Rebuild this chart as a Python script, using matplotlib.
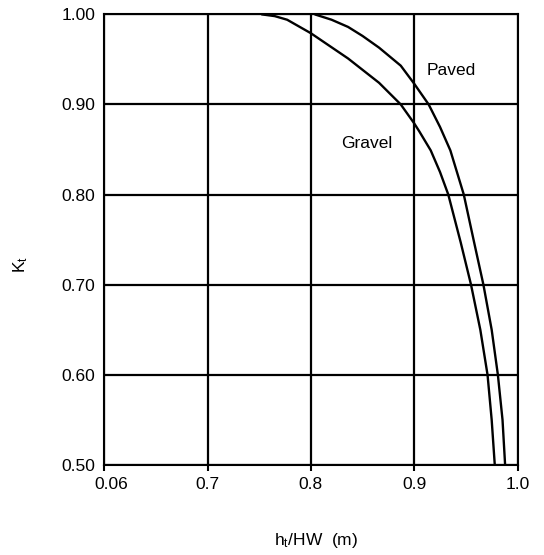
import matplotlib
matplotlib.use("Agg")
import matplotlib.pyplot as plt
from matplotlib.transforms import ScaledTranslation

plt.rcParams['font.family'] = ['Liberation Sans', 'DejaVu Sans']
plt.rcParams['mathtext.fontset'] = 'custom'
plt.rcParams['mathtext.rm'] = 'Liberation Sans'
plt.rcParams['mathtext.it'] = 'Liberation Sans:italic'

# Data
gravel_x = [0.752, 0.765, 0.777, 0.800, 0.836, 0.866, 0.887, 0.900, 0.905, 0.916, 0.925, 0.933, 0.945, 0.955, 0.964, 0.971, 0.975, 0.978]
gravel_y = [1.000, 0.998, 0.994, 0.979, 0.951, 0.924, 0.900, 0.879, 0.870, 0.849, 0.825, 0.800, 0.747, 0.700, 0.650, 0.600, 0.550, 0.500]
paved_x = [0.8036, 0.820, 0.836, 0.850, 0.866, 0.887, 0.900, 0.914, 0.925, 0.935, 0.948, 0.958, 0.967, 0.975, 0.981, 0.9855, 0.988]
paved_y = [1.000, 0.994, 0.986, 0.976, 0.963, 0.943, 0.923, 0.900, 0.875, 0.849, 0.800, 0.747, 0.700, 0.650, 0.600, 0.550, 0.500]

x_ticks = [0.6, 0.7, 0.8, 0.9, 1.0]
x_tick_labels = ["0.06", "0.7", "0.8", "0.9", "1.0"]
y_ticks = [0.5, 0.6, 0.7, 0.8, 0.9, 1.0]
y_tick_labels = ["0.50", "0.60", "0.70", "0.80", "0.90", "1.00"]

fig = plt.figure(figsize=(5.44, 5.55), dpi=100)
ax = fig.add_axes([0.1917, 0.1622, 0.7596, 0.812])

for xs, ys in ((gravel_x, gravel_y), (paved_x, paved_y)):
    ax.plot(xs, ys, color='black', lw=1.7, zorder=3,
            solid_joinstyle='round', solid_capstyle='butt')

ax.set_xlim(0.6, 1.0)
ax.set_ylim(0.5, 1.0)
ax.set_xticks(x_ticks)
ax.set_xticklabels(x_tick_labels)
ax.set_yticks(y_ticks)
ax.set_yticklabels(y_tick_labels)
ax.grid(True, color='black', lw=1.6)
ax.set_axisbelow(True)
for s in ax.spines.values():
    s.set_linewidth(1.5)
    s.set_color('black')
ax.tick_params(axis='x', length=4, width=1.5, labelsize=12.5, pad=5, direction='out')
ax.tick_params(axis='y', length=0, labelsize=12.5, pad=6.5)

# first x label sits slightly right of its tick in the reference
first = ax.get_xticklabels()[0]
first.set_transform(first.get_transform() + ScaledTranslation(7/100, 0, fig.dpi_scale_trans))

ax.text(0.9355, 0.938, "Paved", fontsize=12.5, ha='center', va='center')
ax.text(0.8545, 0.857, "Gravel", fontsize=12.5, ha='center', va='center')

fig.text(0.581, 0.0258, r"h$_\mathrm{t}$/HW  (m)", fontsize=12.5, ha='center', va='center')
fig.text(0.0386, 0.524, r"K$_\mathrm{t}$", fontsize=12.5, ha='center', va='center', rotation=90)

fig.savefig("out.png", dpi=100)
